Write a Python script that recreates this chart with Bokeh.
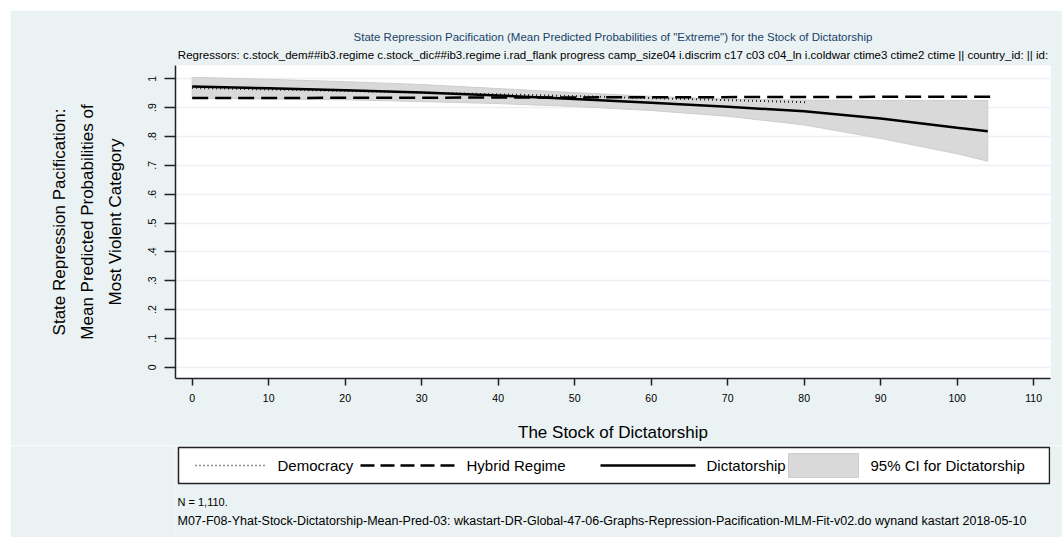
from bokeh.plotting import figure
from bokeh.models import FixedTicker, Range1d, Title, Spacer
from bokeh.core.properties import value
from bokeh.layouts import column, row
from bokeh.embed import file_html
from bokeh.resources import INLINE

# ---------------- data ----------------
stock_dem = [0, 10, 20, 30, 40, 50, 60, 70, 80, 80.5]
democracy = [0.968, 0.963, 0.958, 0.952, 0.946, 0.940, 0.933, 0.926, 0.919, 0.919]

stock_hyb = [0, 105]
hybrid = [0.933, 0.938]

stock_dic = [0, 10, 20, 30, 40, 50, 60, 70, 80, 90, 100, 104]
dictatorship = [0.973, 0.967, 0.960, 0.952, 0.942, 0.930, 0.917, 0.903, 0.887, 0.862, 0.830, 0.818]
ci_upper = [1.005, 0.998, 0.990, 0.980, 0.966, 0.952, 0.939, 0.929, 0.926, 0.925, 0.925, 0.925]
ci_lower = [0.932, 0.930, 0.927, 0.921, 0.914, 0.904, 0.890, 0.870, 0.840, 0.793, 0.740, 0.714]

x_ticks = [0, 10, 20, 30, 40, 50, 60, 70, 80, 90, 100, 110]
y_ticks = [0, 0.1, 0.2, 0.3, 0.4, 0.5, 0.6, 0.7, 0.8, 0.9, 1.0]
y_tick_labels = ["0", ".1", ".2", ".3", ".4", ".5", ".6", ".7", ".8", ".9", "1"]

title = 'State Repression Pacification (Mean Predicted Probabilities of "Extreme") for the Stock of Dictatorship'
subtitle = ("Regressors: c.stock_dem##ib3.regime c.stock_dic##ib3.regime i.rad_flank progress camp_size04 "
            "i.discrim c17 c03 c04_ln i.coldwar ctime3 ctime2 ctime || country_id: || id:")
y_title = "State Repression Pacification:\nMean Predicted Probabilities of\nMost Violent Category"
x_title = "The Stock of Dictatorship"
note_n = "N = 1,110."
note_file = ("M07-F08-Yhat-Stock-Dictatorship-Mean-Pred-03: wkastart-DR-Global-47-06-Graphs-Repression-"
             "Pacification-MLM-Fit-v02.do wynand kastart 2018-05-10")
legend_labels = ["Democracy", "Hybrid Regime", "Dictatorship", "95% CI for Dictatorship"]

FONT = "Liberation Sans"
BG = "#eaf2f3"
CI_FILL = "#d9d9d9"
CI_LINE = "#cdcdcd"

# ---------------- main chart ----------------
p = figure(title=None, width=1052, height=435,
           min_border_left=165, min_border_right=12, min_border_top=55, min_border_bottom=67,
           x_range=Range1d(-2.18, 112.2), y_range=Range1d(-0.039, 1.046),
           output_backend="svg", toolbar_location=None)
p.border_fill_color = BG
p.background_fill_color = "white"
p.outline_line_color = None

band_x = stock_dic + stock_dic[::-1]
band_y = ci_upper + ci_lower[::-1]
p.patch(band_x, band_y, fill_color=CI_FILL, line_color=CI_LINE, line_width=1)
p.line(stock_dem, democracy, line_color="#222222", line_width=2, line_dash="1 3")
p.line(stock_hyb, hybrid, line_color="black", line_width=2.5, line_dash="16 7")
p.line(stock_dic, dictatorship, line_color="black", line_width=2.5)

p.xgrid.visible = False
p.ygrid.grid_line_color = BG
p.ygrid.grid_line_width = 1.5
p.ygrid.ticker = FixedTicker(ticks=y_ticks)

p.xaxis.ticker = FixedTicker(ticks=x_ticks)
p.yaxis.ticker = FixedTicker(ticks=y_ticks)
p.yaxis.major_label_overrides = {t: l for t, l in zip(y_ticks, y_tick_labels)}
p.yaxis.major_label_orientation = "vertical"

for ax in (p.xaxis, p.yaxis):
    ax.axis_line_color = "#222222"
    ax.axis_line_width = 1.5
    ax.major_tick_line_color = "#222222"
    ax.major_tick_line_width = 1.5
    ax.major_tick_in = 0
    ax.minor_tick_line_color = None
    ax.major_label_text_font = FONT
    ax.major_label_text_font_size = "10.5px"
    ax.major_label_text_color = "black"
    ax.axis_label_text_font = FONT
    ax.axis_label_text_font_size = "17px"
    ax.axis_label_text_font_style = "normal"
    ax.axis_label_text_color = "black"

p.xaxis.major_tick_out = 7
p.xaxis.major_label_standoff = 8
p.xaxis.axis_label = x_title
p.xaxis.axis_label_standoff = 18
p.yaxis.major_tick_out = 11
p.yaxis.major_label_standoff = 8
p.yaxis.axis_label = y_title
p.yaxis.axis_label_standoff = 21
p.yaxis.axis_label_text_align = "center"
p.yaxis.axis_label_text_line_height = 1.45

# titles (first added sits closest to the frame)
p.add_layout(Title(text=subtitle, align="center", text_font=FONT, text_font_size="11.5px",
                   text_font_style="normal", text_color="black", standoff=9), "above")
p.add_layout(Title(text=title, align="center", text_font=FONT, text_font_size="11.5px",
                   text_font_style="normal", text_color="#1a3f6a", standoff=0), "above")

# ---------------- legend + notes strip (page-pixel coordinates, y downward) ----------------
# the column layout aligns this strip's frame with the chart's frame (page x 175..1050)
q = figure(width=1052, height=92, x_range=Range1d(175, 1050), y_range=Range1d(537, 445),
           min_border_left=165, min_border_right=12, min_border_top=0, min_border_bottom=0,
           x_axis_type=None, y_axis_type=None,
           output_backend="svg", toolbar_location=None)
q.border_fill_color = BG
q.background_fill_color = BG
q.outline_line_color = None
q.grid.visible = False

# legend frame
q.quad(left=[178], right=[1049], top=[447], bottom=[483], fill_color="white",
       line_color="#222222", line_width=1.5)
# keys
q.line([195, 265], [465, 465], line_color="#222222", line_width=1.5, line_dash="1 3")
q.line([360, 455], [465, 465], line_color="black", line_width=2.5, line_dash="14 6")
q.line([600, 695], [465, 465], line_color="black", line_width=2.5)
q.quad(left=[788], right=[858], top=[453], bottom=[477], fill_color=CI_FILL, line_color=CI_LINE)
q.text(x=[277, 466, 706, 870], y=[465, 465, 465, 465], text=legend_labels,
       text_font=value(FONT), text_font_size="15px", text_baseline="middle", text_color="black")
# notes
q.text(x=[177], y=[501], text=[note_n], text_font=value(FONT), text_font_size="11px",
       text_baseline="middle", text_color="black")
q.text(x=[177], y=[520], text=[note_file], text_font=value(FONT), text_font_size="12.5px",
       text_baseline="middle", text_color="black")

layout = column(Spacer(height=10), row(Spacer(width=10), column(p, q)))

open("out.html", "w").write(file_html(layout, INLINE))
